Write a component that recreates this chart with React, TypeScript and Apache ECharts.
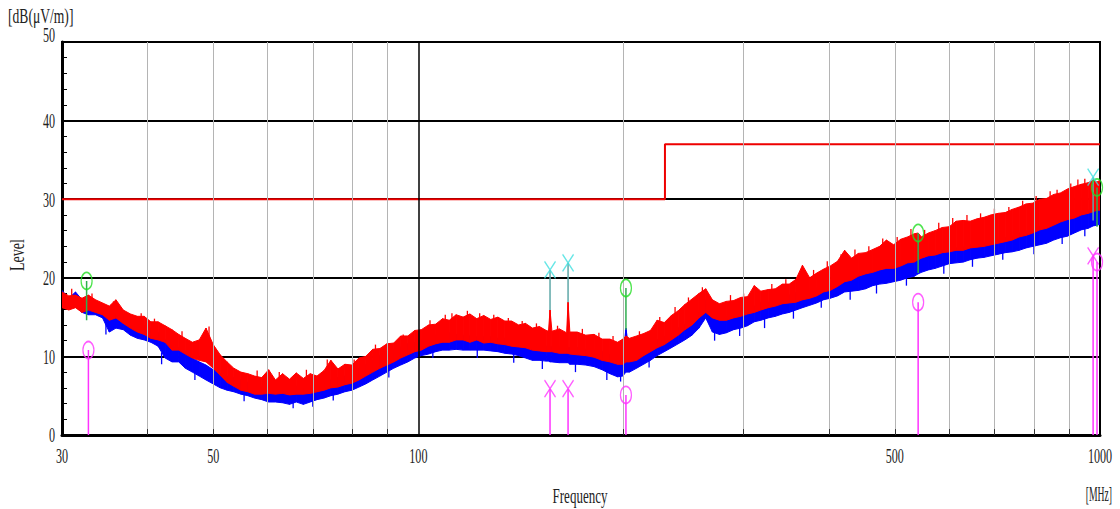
import React, { useEffect, useRef } from "react";
import * as echarts from "echarts";

// Frequencies (MHz) at which the traces were read
const freq = [
  30, 30.7, 31.4, 32.1, 32.8, 33.6, 34.4, 35.2, 36, 36.9, 37.8, 38.7, 39.6,
  40.5, 41.5, 42.5, 43.5, 44.5, 45.5, 46.6, 47.7, 48.8, 50, 51.2, 52.4, 53.6, 54.9, 56.2, 57.5, 58.9,
  60.3, 61.7, 63.2, 64.7, 66.2, 67.8, 69.4, 71, 72.7, 74.4, 76.2, 78, 79.9, 81.8, 83.7, 85.7, 87.8, 89.9, 92, 94.2, 96.5, 98.8,
  101, 103.5, 106, 108.5, 111, 113.6, 116.3, 119, 121.8, 124.7, 127.7, 130.8, 133.9, 137, 140.3, 143.6, 147, 150.5, 154, 155.2,
  156, 157, 161, 165, 165.8, 166.8, 171, 176, 181, 186, 191, 196, 199.5, 201.6, 204,
  209, 214, 219, 224, 229.5, 235, 240.5, 246, 252, 258, 264, 270, 276.5, 283, 290, 297, 304, 311, 318, 326,
  334, 342, 350, 358, 366, 375, 384, 393,
  402, 412, 422, 432, 442, 453, 464, 475, 486, 498, 510, 522, 534, 541, 547, 560, 573, 587, 601, 615,
  630, 645, 660, 676, 692, 709, 726, 743, 761, 779, 797, 816, 835, 855, 875, 896, 917, 939, 961, 977, 990, 1000,
];

// Red trace (upper / lower edge of the noisy trace), dB(uV/m)
const redHi = [
  18.2, 17.7, 17.8, 17.4, 17.8, 17.2, 16.8, 16.4, 17.2, 15.9, 15.4, 15.1, 15.1,
  14.4, 14.4, 13.9, 13.4, 12.8, 12.3, 11.8, 12.1, 13.6, 11.5, 10.2, 9.3, 8.5, 8.0, 7.8, 7.5, 7.3,
  8.3, 7.0, 7.8, 7.1, 7.9, 7.2, 7.8, 7.5, 8.2, 9.5, 8.4, 9.0, 8.9, 9.8, 10.0, 10.9, 11.0, 11.6, 11.7, 12.6, 12.6, 13.3,
  13.4, 14.0, 14.1, 14.8, 14.6, 15.3, 15.0, 15.4, 14.8, 15.2, 14.7, 15.0, 14.5, 14.5, 14.0, 14.2, 13.6, 13.8, 13.3, 13.2,
  15.9, 13.2, 13.5, 13.0, 16.9, 13.1, 13.1, 12.7, 12.8, 12.2, 12.2, 11.8, 12.2, 12.6, 12.3,
  12.6, 12.9, 13.3, 14.6, 14.3, 15.2, 15.8, 16.6, 17.3, 18.0, 18.6, 17.2, 16.7, 17.0, 17.1, 17.5, 17.6, 19.0, 18.3, 18.5,
  18.6, 19.2, 19.2, 19.8, 21.6, 20.0, 20.6, 21.1,
  21.5, 22.1, 23.5, 22.5, 23.1, 23.2, 23.6, 24.0, 24.8, 24.2, 24.9, 25.2, 25.6, 25.7, 25.2, 25.7, 26.0, 26.4, 26.5, 27.2,
  27.3, 27.2, 27.5, 27.7, 28.0, 28.2, 28.3, 28.7, 29.0, 29.4, 29.5, 30.0, 30.1, 30.6, 30.8, 31.3, 31.6, 31.9, 32.1, 32.4, 32.2, 32.4,
];
const redLo = [
  16.2, 15.9, 16.2, 15.6, 15.9, 15.6, 15.3, 14.6, 14.9, 14.2, 13.6, 13.1, 12.8,
  12.3, 12.1, 11.8, 10.8, 10.8, 10.3, 9.8, 9.5, 9.3, 8.5, 7.6, 6.7, 6.2, 5.7, 5.5, 5.2, 5.2,
  5.3, 5.2, 5.3, 5.1, 5.2, 5.2, 5.3, 5.5, 5.7, 6.0, 6.1, 6.4, 6.6, 7.0, 7.5, 8.0, 8.5, 8.9, 9.3, 9.8, 10.2, 10.6,
  10.8, 11.3, 11.6, 11.8, 11.8, 12.1, 12.1, 11.8, 12.1, 11.7, 11.8, 11.6, 11.5, 11.3, 11.2, 11.1, 10.8, 10.7, 10.6, 10.6,
  10.6, 10.6, 10.4, 10.4, 10.4, 10.3, 10.2, 10.1, 9.9, 9.5, 9.3, 9.0, 9.0, 9.3, 9.3,
  9.5, 10.1, 10.6, 11.1, 11.5, 12.1, 12.7, 13.4, 14.0, 14.9, 15.6, 14.9, 14.6, 14.6, 14.9, 15.1, 15.4, 15.6, 15.9, 16.2,
  16.4, 16.7, 16.8, 16.9, 17.2, 17.4, 17.7, 18.2,
  18.4, 18.9, 19.5, 19.7, 20.2, 20.5, 20.7, 21.0, 21.2, 21.2, 21.5, 21.9, 22.0, 22.3, 22.5, 22.8, 22.9, 23.2, 23.3, 23.5,
  23.5, 23.8, 23.9, 24.0, 24.2, 24.4, 24.6, 24.8, 25.2, 25.4, 25.7, 26.1, 26.3, 26.7, 27.1, 27.4, 27.6, 28.0, 28.2, 28.4, 28.6, 28.6,
];

// Blue trace (upper / lower edge), dB(uV/m)
const blueHi = [
  18.4, 17.4, 18.2, 17.2, 16.8, 16.9, 16.5, 15.9, 15.3, 15.3, 14.6, 14.0, 13.9,
  13.6, 13.1, 12.1, 11.5, 11.1, 10.6, 9.8, 9.3, 8.9, 8.3, 7.8, 7.5, 7.3, 7.0, 6.7, 6.5, 6.2,
  6.1, 6.0, 6.1, 6.0, 6.2, 6.0, 6.2, 6.4, 6.6, 7.0, 7.3, 7.5, 7.9, 8.5, 9.0, 9.5, 10.1, 10.6, 10.8, 11.2, 11.6, 11.8,
  12.1, 12.5, 12.7, 13.0, 13.0, 12.8, 12.7, 12.6, 12.5, 12.5, 12.5, 12.3, 12.3, 12.1, 12.0, 11.8, 11.6, 11.5, 11.3, 11.2,
  11.3, 11.2, 11.2, 11.1, 11.1, 11.1, 11.1, 10.9, 10.8, 10.6, 10.2, 9.8, 9.8, 13.6, 10.3,
  10.8, 11.2, 11.6, 12.1, 12.5, 13.0, 13.6, 14.1, 14.9, 15.6, 17.2, 15.1, 14.9, 15.1, 15.4, 15.6, 15.9, 16.4, 16.9, 16.9,
  17.2, 17.6, 17.8, 18.1, 18.2, 18.4, 18.7, 19.0,
  19.2, 19.5, 20.0, 20.2, 20.5, 20.6, 20.9, 21.0, 21.2, 21.5, 21.9, 22.0, 22.0, 22.3, 22.5, 22.8, 23.2, 23.5, 23.7, 23.8,
  23.9, 24.2, 24.3, 24.4, 24.7, 24.8, 25.1, 25.3, 25.7, 25.8, 26.1, 26.5, 26.7, 27.1, 27.4, 27.6, 27.9, 28.1, 28.6, 28.9, 28.9, 29.1,
];
const blueLo = [
  16.5, 16.4, 16.4, 15.6, 15.3, 15.3, 14.9, 13.1, 13.6, 13.4, 12.7, 12.3, 12.1,
  11.8, 11.3, 9.8, 9.3, 9.3, 8.5, 8.0, 7.5, 7.0, 6.5, 6.0, 5.7, 5.5, 5.2, 5.0, 4.7, 4.5,
  4.2, 4.2, 4.1, 3.9, 4.2, 3.9, 4.2, 4.5, 4.7, 5.0, 5.2, 5.5, 5.7, 6.1, 6.5, 7.0, 7.5, 8.0, 8.5, 8.9, 9.3, 9.8,
  10.1, 10.3, 10.6, 10.8, 10.8, 10.9, 10.8, 10.8, 10.8, 10.8, 10.7, 10.6, 10.4, 10.3, 10.1, 9.8, 9.5, 9.5, 9.4, 9.4,
  9.3, 9.3, 9.2, 9.2, 9.2, 9.0, 9.0, 8.9, 8.7, 8.3, 7.8, 7.4, 7.5, 8.0, 8.0,
  8.5, 9.0, 9.5, 10.1, 10.6, 11.1, 11.6, 12.1, 12.7, 13.6, 14.9, 13.1, 12.8, 13.0, 13.4, 13.6, 13.9, 14.4, 14.6, 14.9,
  15.1, 15.4, 15.6, 15.9, 16.2, 16.5, 16.8, 17.2,
  17.4, 17.7, 18.2, 18.3, 18.4, 18.6, 19.0, 19.2, 19.3, 19.5, 19.7, 20.0, 20.2, 20.5, 20.7, 21.0, 21.2, 21.5, 21.8, 21.9,
  22.0, 22.3, 22.5, 22.6, 22.8, 23.0, 23.2, 23.3, 23.5, 23.8, 24.0, 24.2, 24.4, 24.8, 25.1, 25.3, 25.7, 26.1, 26.3, 26.6, 26.7, 26.8,
];

// Narrow noise spikes: [MHz, from dB, to dB]
const redSpikes = [
  [31.0, 16.5, 18.6], [33.2, 16.0, 18.0], [35.7, 15.0, 17.0], [39.2, 13.5, 15.5], [41.0, 12.5, 14.8],
  [45.0, 11.0, 13.2], [49.3, 10.0, 13.8], [58.0, 6.0, 8.2], [62.5, 6.0, 8.0], [68.5, 6.0, 8.3],
  [73.5, 6.5, 9.6], [80.5, 7.5, 9.6], [86.5, 9.0, 11.5], [95.0, 10.5, 12.8],
  [104, 12.0, 14.6], [109.5, 12.5, 15.3], [112, 12.5, 15.5], [118, 13.0, 15.8], [123, 12.5, 15.5],
  [129, 12.5, 15.3], [135.5, 12.0, 14.9], [142, 12.0, 14.5], [149, 11.5, 14.2], [160, 11.0, 13.9],
  [174, 11.0, 13.5], [184, 10.5, 13.0], [193, 10.0, 12.6],
  [211, 10.5, 13.2], [226, 12.0, 15.0], [238, 13.0, 16.3], [249, 14.0, 17.5], [261, 16.0, 18.8],
  [287, 15.5, 17.8], [300, 15.5, 18.0], [330, 16.5, 19.2], [346, 17.0, 19.8], [362, 17.5, 20.3],
  [380, 18.0, 21.0], [398, 19.0, 22.1], [417, 19.5, 23.0], [437, 20.5, 23.6], [458, 21.0, 24.0],
  [480, 21.5, 25.0], [504, 22.0, 25.2], [528, 22.5, 26.2], [553, 23.0, 26.1], [580, 23.5, 27.0],
  [608, 24.0, 27.6], [638, 24.5, 28.0], [668, 24.5, 28.2], [700, 25.0, 28.8], [735, 25.5, 29.0],
  [770, 26.0, 29.8], [806, 26.5, 30.4], [845, 27.0, 31.0], [865, 27.5, 31.2], [906, 28.0, 32.0],
  [928, 28.5, 32.5], [950, 28.5, 32.6],
];
const blueSpikes = [
  [34.8, 14.5, 12.8], [42.0, 10.5, 9.0], [47.0, 8.5, 7.0], [55.5, 5.5, 4.3], [65.5, 4.5, 3.4],
  [70.0, 4.5, 3.6], [75.0, 5.5, 4.4], [90.5, 8.5, 7.3], [105, 10.8, 9.8], [122, 11.0, 9.8],
  [138, 10.5, 9.2], [152, 9.8, 8.4], [170, 9.4, 8.0], [189, 8.5, 7.0], [198, 8.0, 6.8],
  [218, 9.8, 8.6], [272, 13.5, 12.0], [296, 13.8, 12.6], [322, 15.0, 13.6], [355, 16.0, 14.8],
  [390, 17.3, 16.2], [430, 18.5, 17.2], [470, 19.2, 18.0], [520, 20.0, 19.0], [590, 21.6, 20.5],
  [650, 22.4, 21.4], [720, 23.3, 22.3], [800, 24.2, 23.0], [880, 25.4, 24.3], [950, 26.3, 25.3],
];

// Limit line
const limitFreq = [30, 230, 230, 1000];
const limitLevel = [30, 30, 37, 37];

// Grid / ticks / labels
const minorGridFreqs = [40, 50, 60, 70, 80, 90, 200, 300, 400, 500, 600, 700, 800, 900];
const majorGridFreqs = [100];
const xTickLabels = [30, 50, 100, 500, 1000];
const yTickLabels = [0, 10, 20, 30, 40, 50];

// Markers
const greenPeaks = [[32.6, 19.6], [201.6, 18.7], [541, 25.7], [990, 31.5]];
const greenStickBase = [14.6, 13.4, 20.6, 26.5];
const cyanPeaks = [[156, 21.0], [165.8, 21.9], [977, 32.8]];
const cyanStickBase = [15.9, 16.9, 27.3];
const magentaCircles = [[32.8, 10.8], [201.6, 5.1], [541, 16.9], [990, 22.0]];
const magentaCrosses = [[156, 5.9], [165.8, 5.9], [977, 22.8]];

const BLUE = "#0000ff";
const RED = "#ff0000";
const GREEN = "#22dd22";
const GREEN_STICK = "#2fae4f";
const CYAN = "#40e0e0";
const CYAN_STICK = "#5fa8a8";
const MAGENTA = "#ff33ff";
const CROSS = "path://M0,0L10,16M10,0L0,16";
const FONT = '"Liberation Serif", "DejaVu Serif", serif';

function stick(f: number, a: number, b: number, color: string) {
  return {
    type: "line",
    data: [[f, a], [f, b]],
    symbol: "none",
    lineStyle: { color, width: 1.5 },
    z: 5,
    silent: true,
  };
}

// Band between lower and upper edge of a noisy trace, drawn as quads through the axes' scales
function band(lo: number[], hi: number[], color: string, z: number) {
  return {
    type: "custom",
    coordinateSystem: "cartesian2d",
    data: freq.map((f, i) => [f, lo[i], hi[i]]),
    encode: { x: 0, y: [1, 2] },
    z,
    silent: true,
    clip: true,
    renderItem: (params: any, api: any) => {
      const i = params.dataIndex;
      if (i >= freq.length - 1) return null;
      const a = api.coord([freq[i], hi[i]]);
      const b = api.coord([freq[i + 1], hi[i + 1]]);
      const c = api.coord([freq[i + 1], lo[i + 1]]);
      const d = api.coord([freq[i], lo[i]]);
      return {
        type: "polygon",
        shape: { points: [a, b, c, d] },
        style: { fill: color, stroke: color, lineWidth: 1 },
      };
    },
  };
}

function spikes(list: number[][], color: string, z: number) {
  return {
    type: "custom",
    coordinateSystem: "cartesian2d",
    data: list,
    encode: { x: 0, y: [1, 2] },
    z,
    silent: true,
    renderItem: (params: any, api: any) => {
      const p1 = api.coord([api.value(0), api.value(1)]);
      const p2 = api.coord([api.value(0), api.value(2)]);
      return {
        type: "line",
        shape: { x1: p1[0], y1: p1[1], x2: p2[0], y2: p2[1] },
        style: { stroke: color, lineWidth: 1.3 },
      };
    },
  };
}

export default function App() {
  const ref = useRef<HTMLDivElement>(null);

  useEffect(() => {
    if (!ref.current) return;
    const chart = echarts.init(ref.current, null, { renderer: "svg" });

    const gridLines: any[] = [
      ...minorGridFreqs.map((f) => ({ xAxis: f, lineStyle: { color: "#b4b4b4", width: 1, type: "solid" } })),
      ...majorGridFreqs.map((f) => ({ xAxis: f, lineStyle: { color: "#000", width: 1.5, type: "solid" } })),
      ...minorGridFreqs.map((f) => [
        { coord: [f, 0], lineStyle: { color: "#333", width: 1, type: "solid" } },
        { coord: [f, 0.75] },
      ]),
    ];

    const series: any[] = [
      {
        type: "line",
        data: [[30, 0]],
        symbol: "none",
        lineStyle: { width: 0 },
        silent: true,
        z: 1,
        markLine: { silent: true, symbol: ["none", "none"], label: { show: false }, data: gridLines },
      },
      band(blueLo, blueHi, BLUE, 2),
      spikes(blueSpikes, BLUE, 2),
      band(redLo, redHi, RED, 3),
      spikes(redSpikes, RED, 3),
      {
        type: "line",
        data: limitFreq.map((f, i) => [f, limitLevel[i]]),
        symbol: "none",
        lineStyle: { color: "#ee0000", width: 2 },
        z: 4,
        silent: true,
      },
      ...greenPeaks.map((p, i) => stick(p[0], greenStickBase[i], p[1], GREEN_STICK)),
      ...cyanPeaks.map((p, i) => stick(p[0], cyanStickBase[i], p[1], CYAN_STICK)),
      ...magentaCircles.map((p) => stick(p[0], 0, p[1], MAGENTA)),
      ...magentaCrosses.map((p) => stick(p[0], 0, p[1], MAGENTA)),
      {
        type: "scatter",
        data: greenPeaks,
        symbol: "circle",
        symbolSize: [11, 17],
        itemStyle: { color: "transparent", borderColor: GREEN, borderWidth: 1.5 },
        z: 6,
        silent: true,
      },
      {
        type: "scatter",
        data: magentaCircles,
        symbol: "circle",
        symbolSize: [11, 17],
        itemStyle: { color: "transparent", borderColor: MAGENTA, borderWidth: 1.5 },
        z: 6,
        silent: true,
      },
      {
        type: "scatter",
        data: cyanPeaks,
        symbol: CROSS,
        symbolSize: [11, 17],
        symbolKeepAspect: false,
        itemStyle: { color: "none", borderColor: CYAN, borderWidth: 1.5 },
        z: 6,
        silent: true,
      },
      {
        type: "scatter",
        data: magentaCrosses,
        symbol: CROSS,
        symbolSize: [11, 17],
        symbolKeepAspect: false,
        itemStyle: { color: "none", borderColor: MAGENTA, borderWidth: 1.5 },
        z: 6,
        silent: true,
      },
    ];

    chart.setOption({
      animation: false,
      backgroundColor: "#ffffff",
      grid: {
        left: 62,
        right: 20,
        top: 42,
        bottom: 74,
        show: true,
        borderColor: "#000",
        borderWidth: 2,
        backgroundColor: "transparent",
      },
      xAxis: {
        type: "log",
        logBase: 10,
        min: 30,
        max: 1000,
        axisLine: { show: true, onZero: false, lineStyle: { color: "#000", width: 3 } },
        axisTick: { show: false },
        axisLabel: { show: false },
        splitLine: { show: false },
      },
      yAxis: {
        type: "value",
        min: 0,
        max: 50,
        interval: 10,
        axisLine: { show: true, lineStyle: { color: "#000", width: 3 } },
        axisTick: { show: true, inside: true, length: 5, lineStyle: { color: "#000" } },
        minorTick: { show: true, splitNumber: 5, length: 5, lineStyle: { color: "#000", width: 1 } },
        axisLabel: { show: false },
        splitLine: { show: true, lineStyle: { color: "#000", width: 2 } },
      },
      series,
    });

    const X = (f: number) => chart.convertToPixel({ xAxisIndex: 0 }, f) as number;
    const Y = (v: number) => chart.convertToPixel({ yAxisIndex: 0 }, v) as number;
    const txt = (text: string, x: number, y: number, size: number, sx: number, align: string, extra: any = {}) => ({
      type: "text",
      x,
      y,
      scaleX: sx,
      ...extra,
      style: { text, font: `${size}px ${FONT}`, fill: "#222", align, verticalAlign: "middle" },
      silent: true,
    });

    const graphics: any[] = [
      ...yTickLabels.map((v) => txt(String(v), 55, Y(v) - (v === 50 ? 7 : 0), 22, 0.55, "right")),
      ...xTickLabels.map((f) => txt(String(f), X(f), 456, 22, 0.55, "center")),
      txt("[dB(\u03bcV/m)]", 8, 17, 20, 0.68, "left"),
      txt("Level", 18, 255, 20, 0.7, "center", { rotation: Math.PI / 2 }),
      txt("Frequency", 580, 496, 21, 0.62, "center"),
      txt("[MHz]", 1112, 494, 21, 0.46, "right"),
    ];
    chart.setOption({ graphic: graphics });

    return () => chart.dispose();
  }, []);

  return (
    <div
      ref={ref}
      style={{ position: "fixed", left: 0, top: 0, width: 1120, height: 509, background: "#fff" }}
    />
  );
}
